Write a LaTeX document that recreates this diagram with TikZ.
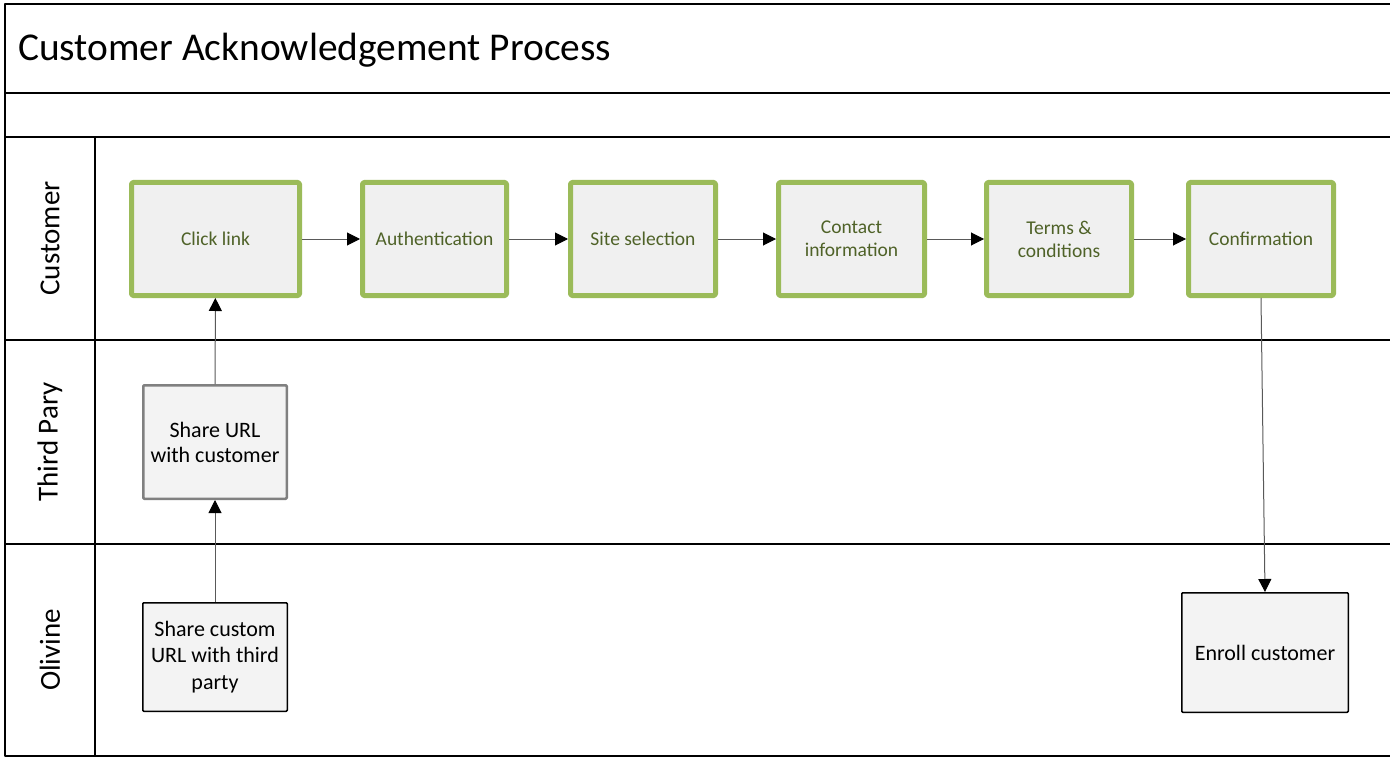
\documentclass[tikz,border=0pt]{standalone}
\usepackage{fontspec}
\setmainfont{Carlito}
\usepackage{tikz}
\usetikzlibrary{arrows.meta}
\definecolor{laneGreen}{HTML}{9BBB59}
\definecolor{textGreen}{HTML}{4F6228}
\definecolor{boxFill}{HTML}{F0F0F0}
\definecolor{flowGray}{HTML}{595959}

\begin{document}
\begin{tikzpicture}[x=1pt,y=-1pt,line join=round]
\tikzstyle{greenbox} = [draw=laneGreen,line width=5pt,fill=boxFill,text=textGreen,font=\fontsize{19.5}{23}\selectfont,align=center,rounded corners=1.5pt,minimum width=145pt,minimum height=113pt,inner sep=0pt]
\tikzstyle{graybox} = [draw=gray,line width=2.5pt,fill=boxFill!80!white,font=\fontsize{22}{25}\selectfont,align=center,rounded corners=1pt,minimum width=143.5pt,minimum height=113.5pt,inner sep=0pt]
\tikzstyle{plainbox} = [draw=black,line width=1.5pt,fill=boxFill!80!white,font=\fontsize{22}{26.5}\selectfont,align=center,rounded corners=1pt,inner sep=0pt]
\tikzstyle{lane} = [rotate=90,font=\fontsize{29}{35}\selectfont]
\tikzstyle{flow} = [draw=flowGray,line width=1pt,-{Triangle[length=13pt,width=13pt,color=black]}]
\useasboundingbox (0,0) rectangle (1390,757);
% frame and lanes
\draw[line width=2pt] (1390,4) -- (5,4) -- (5,756) -- (1390,756);
\draw[line width=2pt] (5,93) -- (1390,93)
                      (5,137) -- (1390,137)
                      (5,340) -- (1390,340)
                      (5,544) -- (1390,544)
                      (95,137) -- (95,756);
\node[anchor=base west,font=\fontsize{39.4}{47}\selectfont,inner sep=0pt] (title) at (18,61) {Customer Acknowledgement Process};
\node[lane] (lcustomer) at (50,238.5) {Customer};
\node[lane] (lthird) at (50,442) {Third Pary};
\node[lane] (lolivine) at (50,650) {Olivine};
% customer lane
\node[greenbox,minimum width=168pt] (click) at (215.5,239) {Click link};
\node[greenbox,minimum width=144pt] (auth) at (434.5,239) {Authentication};
\node[greenbox] (site) at (643,239) {Site selection};
\node[greenbox,minimum width=146pt] (contact) at (851.5,239) {Contact\\information};
\node[greenbox] (terms) at (1059,239) {Terms \&\\conditions};
\node[greenbox] (confirm) at (1261,239) {Confirmation};
% third party and olivine lanes
\node[graybox] (shareurl) at (215,442) {Share URL\\with customer};
\node[plainbox,minimum width=144.5pt,minimum height=108.5pt] (sharecustom) at (215,657) {Share custom\\URL with third\\party};
\node[plainbox,minimum width=166.5pt,minimum height=119.5pt] (enroll) at (1265,652.5) {Enroll customer};
% connectors
\draw[flow] (click) -- (auth);
\draw[flow] (auth) -- (site);
\draw[flow] (site) -- (contact);
\draw[flow] (contact) -- (terms);
\draw[flow] (terms) -- (confirm);
\draw[flow] (sharecustom) -- (shareurl);
\draw[flow] (shareurl) -- (click);
\draw[flow] (confirm.south) -- (enroll.north);
\end{tikzpicture}
\end{document}
